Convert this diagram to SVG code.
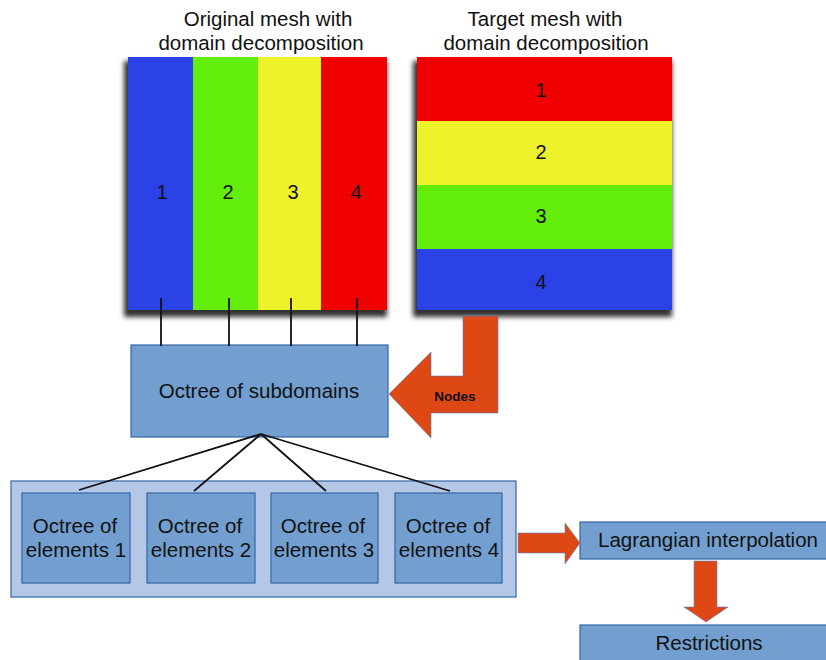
<svg xmlns="http://www.w3.org/2000/svg" width="826" height="660" viewBox="0 0 826 660">
<defs>
<filter id="sh" x="-10%" y="-10%" width="120%" height="120%">
<feGaussianBlur stdDeviation="2.5"/>
</filter>
</defs>
<style>
text{font-family:"Liberation Sans",Arial,sans-serif;fill:#111;}
.t{font-size:20.5px;text-anchor:middle;}
.n{font-size:20px;text-anchor:middle;}
.box{fill:#729fcf;stroke:#3465a4;stroke-width:1.2;}
.cont{fill:#b4c7e7;stroke:#3465a4;stroke-width:1.2;}
.arr{fill:#dd4814;stroke:#5b7fbf;stroke-width:0.6;}
.ln{stroke:#111;stroke-width:1.8;fill:none;}
</style>
<rect width="826" height="660" fill="#fff"/>

<g id="title-original">
<text class="t" x="268" y="26">Original mesh with</text>
<text class="t" x="261" y="50">domain decomposition</text>
</g>
<g id="title-target">
<text class="t" x="545" y="26">Target mesh with</text>
<text class="t" x="546" y="50">domain decomposition</text>
</g>

<g id="original-mesh">
<rect x="124" y="61" width="263" height="256" fill="#333" filter="url(#sh)"/>
<rect x="128" y="57" width="65" height="253" fill="#2b42e6"/>
<rect x="193" y="57" width="65" height="253" fill="#62ee0a"/>
<rect x="258" y="57" width="63" height="253" fill="#eef22a"/>
<rect x="321" y="57" width="66" height="253" fill="#f00000"/>
<text class="n" x="162" y="199">1</text>
<text class="n" x="228" y="199">2</text>
<text class="n" x="293" y="199">3</text>
<text class="n" x="356" y="199">4</text>
</g>

<g id="target-mesh">
<rect x="413" y="61" width="259" height="256" fill="#333" filter="url(#sh)"/>
<rect x="417" y="57" width="255" height="64" fill="#f00000"/>
<rect x="417" y="121" width="255" height="64" fill="#eef22a"/>
<rect x="417" y="185" width="255" height="64" fill="#62ee0a"/>
<rect x="417" y="249" width="255" height="61" fill="#2b42e6"/>
<text class="n" x="541" y="97">1</text>
<text class="n" x="541" y="159">2</text>
<text class="n" x="541" y="223">3</text>
<text class="n" x="541" y="289">4</text>
</g>

<g id="octree-subdomains">
<rect class="box" x="131" y="345" width="257" height="92"/>
<text class="t" x="259" y="398">Octree of subdomains</text>
</g>

<g id="elements-container">
<rect class="cont" x="11" y="481" width="505" height="116"/>
</g>
<g id="octree-elements-1">
<rect class="box" x="22" y="493" width="108" height="90"/>
<text class="t" x="75" y="533">Octree of</text>
<text class="t" x="76" y="557">elements 1</text>
</g>
<g id="octree-elements-2">
<rect class="box" x="147" y="493" width="108" height="90"/>
<text class="t" x="200" y="533">Octree of</text>
<text class="t" x="201" y="557">elements 2</text>
</g>
<g id="octree-elements-3">
<rect class="box" x="271" y="493" width="107" height="90"/>
<text class="t" x="323" y="533">Octree of</text>
<text class="t" x="324" y="557">elements 3</text>
</g>
<g id="octree-elements-4">
<rect class="box" x="395" y="493" width="107" height="90"/>
<text class="t" x="448" y="533">Octree of</text>
<text class="t" x="449" y="557">elements 4</text>
</g>

<g id="lagrangian">
<rect class="box" x="580" y="522" width="250" height="37"/>
<text class="t" x="708" y="547">Lagrangian interpolation</text>
</g>
<g id="restrictions">
<rect class="box" x="580" y="625" width="250" height="40"/>
<text class="t" x="709" y="650">Restrictions</text>
</g>

<g id="connectors">
<line class="ln" x1="161" y1="298" x2="161" y2="346"/>
<line class="ln" x1="229" y1="298" x2="229" y2="346"/>
<line class="ln" x1="291" y1="298" x2="291" y2="346"/>
<line class="ln" x1="357" y1="298" x2="357" y2="346"/>
<line class="ln" x1="261" y1="434" x2="79" y2="490"/>
<line class="ln" x1="261" y1="434" x2="194" y2="491"/>
<line class="ln" x1="261" y1="434" x2="326" y2="491"/>
<line class="ln" x1="261" y1="434" x2="450" y2="491"/>
<path class="arr" d="M463,316 L498,316 L498,413 L431,413 L431,438 L389,394 L431,352 L431,376 L463,376 Z"/>
<text x="455" y="401" font-size="13.5" font-weight="bold" text-anchor="middle">Nodes</text>
<path class="arr" d="M518,533 L565,533 L565,523 L580,543 L565,564 L565,553 L518,553 Z"/>
<path class="arr" d="M694,561 L717,561 L717,607 L728,607 L706,622 L684,607 L694,607 Z"/>
</g>
</svg>
